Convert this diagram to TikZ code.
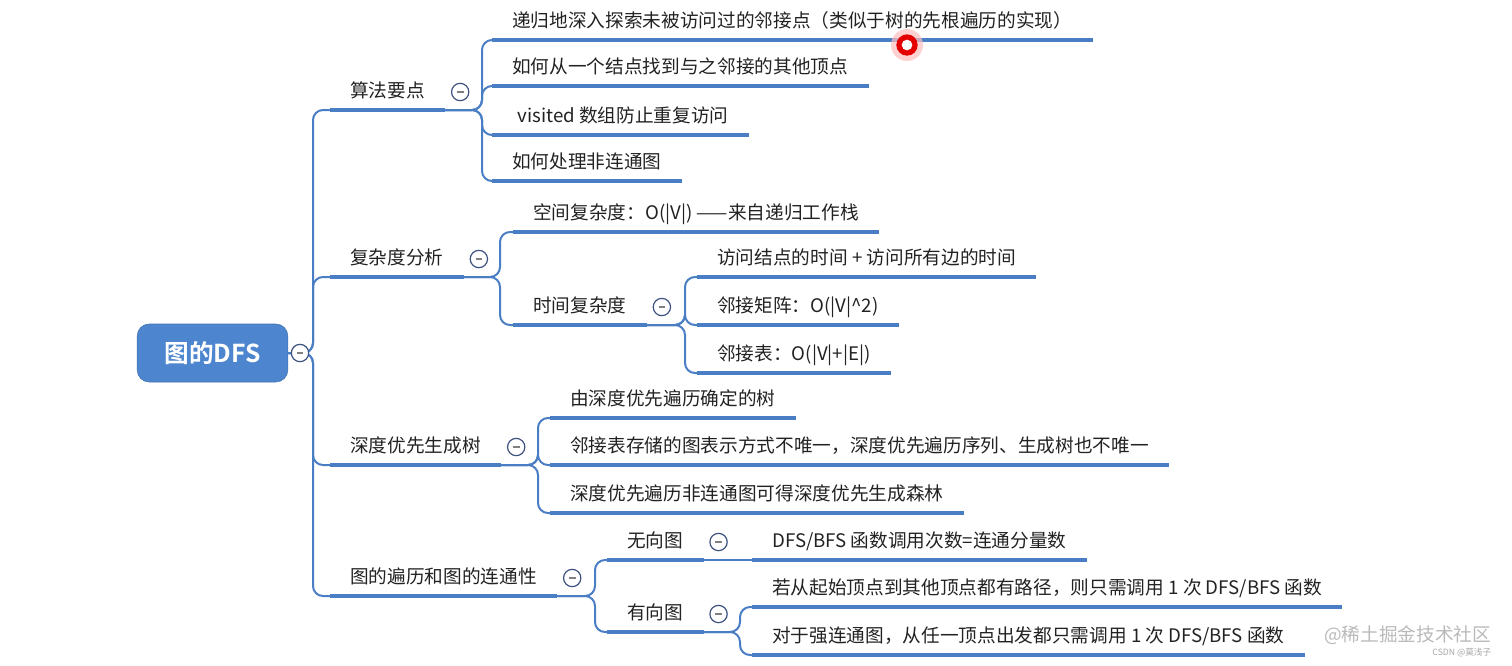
\documentclass[tikz,border=0pt]{standalone}
\usepackage{fontspec}
\setmainfont{Noto Sans CJK SC}[BoldFont={Noto Sans CJK SC Bold}]
\usetikzlibrary{positioning}
\definecolor{lineblue}{RGB}{74,126,196}
\definecolor{rootblue}{RGB}{77,134,206}
\definecolor{foldgray}{RGB}{62,82,128}
\definecolor{textdark}{RGB}{34,34,34}
\tikzset{
  uline/.style={draw=lineblue, line width=3.3pt},
  link/.style={draw=lineblue, line width=1.5pt, rounded corners=7.5pt},
  topic/.style={anchor=south west, inner xsep=15pt, inner ysep=6pt,
    text height=12pt, text depth=3pt, text=textdark,
    font=\fontsize{14pt}{16pt}\selectfont,
    append after command={(\tikzlastnode.south west) edge[uline] (\tikzlastnode.south east)}},
  root/.style={fill=rootblue, draw=rootblue!85!black, rounded corners=9pt,
    minimum width=113pt, minimum height=43.5pt, text=white,
    font=\fontsize{18.5pt}{20pt}\selectfont\bfseries},
  fold/.style={circle, draw=foldgray, fill=white, line width=0.9pt,
    minimum size=13pt, inner sep=0pt,
    path picture={\draw[gray, line width=0.9pt] ([xshift=-2.5pt]path picture bounding box.center) -- ([xshift=2.5pt]path picture bounding box.center);}}
}
\begin{document}
\begin{tikzpicture}[x=0.75pt, y=-0.75pt]
  \useasboundingbox (0,0) rectangle (1512,665);
  % Root
  \node[root] (dfs) at (212.5,353) {图的DFS};
  % First level
  \node[topic] (alg) at (330,110) {算法要点};
  \node[topic] (cplx) at (330,277) {复杂度分析};
  \node[topic] (tree) at (330,465) {深度优先生成树};
  \node[topic] (conn) at (330,596) {图的遍历和图的连通性};
  % Trunk
  \coordinate (trunk) at (313,353);
  \foreach \n in {alg,cplx,tree,conn}
    \draw[link] (dfs.east) -- (trunk) |- (\n.south west);
  % Algorithm points
  \node[topic] (a1) at (492,40) {递归地深入探索未被访问过的邻接点（类似于树的先根遍历的实现）};
  \node[topic] (a2) at (492,86) {如何从一个结点找到与之邻接的其他顶点};
  \node[topic] (a3) at (492,135) {\hspace{4pt}visited 数组防止重复访问};
  \node[topic] (a4) at (492,181) {如何处理非连通图};
  \coordinate (alg-split) at (482,110);
  \foreach \n in {a1,a2,a3,a4}
    \draw[link] (alg.south east) -- (alg-split) |- (\n.south west);
  % Complexity
  \node[topic] (space) at (513,232) {空间复杂度：O(|V|) ——来自递归工作栈};
  \node[topic] (time) at (513,325) {时间复杂度};
  \coordinate (cplx-split) at (500,277);
  \foreach \n in {space,time}
    \draw[link] (cplx.south east) -- (cplx-split) |- (\n.south west);
  \node[topic] (t1) at (697,277) {访问结点的时间 + 访问所有边的时间};
  \node[topic] (t2) at (697,325) {邻接矩阵：O(|V|\textasciicircum 2)};
  \node[topic] (t3) at (697,373) {邻接表：O(|V|+|E|)};
  \coordinate (time-split) at (685,325);
  \foreach \n in {t1,t2,t3}
    \draw[link] (time.south east) -- (time-split) |- (\n.south west);
  % Spanning tree
  \node[topic] (s1) at (550,418) {由深度优先遍历确定的树};
  \node[topic] (s2) at (550,465) {邻接表存储的图表示方式不唯一，深度优先遍历序列、生成树也不唯一};
  \node[topic] (s3) at (550,513) {深度优先遍历非连通图可得深度优先生成森林};
  \coordinate (tree-split) at (538,465);
  \foreach \n in {s1,s2,s3}
    \draw[link] (tree.south east) -- (tree-split) |- (\n.south west);
  % Traversal and connectivity
  \node[topic] (undir) at (607,560) {无向图};
  \node[topic] (dir) at (607,632) {有向图};
  \coordinate (conn-split) at (595,596);
  \foreach \n in {undir,dir}
    \draw[link] (conn.south east) -- (conn-split) |- (\n.south west);
  \node[topic] (u1) at (752,560) {DFS/BFS 函数调用次数=连通分量数};
  \draw[link] (undir.south east) -- (u1.south west);
  \node[topic] (d1) at (752,607) {若从起始顶点到其他顶点都有路径，则只需调用 1 次 DFS/BFS 函数};
  \node[topic] (d2) at (752,655) {对于强连通图，从任一顶点出发都只需调用 1 次 DFS/BFS 函数};
  \coordinate (dir-split) at (740,632);
  \foreach \n in {d1,d2}
    \draw[link] (dir.south east) -- (dir-split) |- (\n.south west);
  % Fold buttons
  \node[fold] (f0) at (300,353) {};
  \foreach \n in {alg,cplx,tree,conn,time,undir,dir}
    \node[fold] (f-\n) at ([shift={(15,-18)}]\n.south east) {};
  % Pointer dot
  \fill[red!25, opacity=0.7] (907,45) circle (12pt);
  \fill[red!90!black] (907,45) circle (8pt);
  \fill[white] (907,45) circle (4pt);
  % Watermark
  \node[anchor=east, text=gray!55, font=\fontsize{14pt}{16pt}\selectfont] (wm) at (1496,635) {@稀土掘金技术社区};
  \node[anchor=east, text=gray!70, font=\fontsize{6.5pt}{8pt}\selectfont] (csdn) at (1496,653) {CSDN @莫浅子};
\end{tikzpicture}
\end{document}
